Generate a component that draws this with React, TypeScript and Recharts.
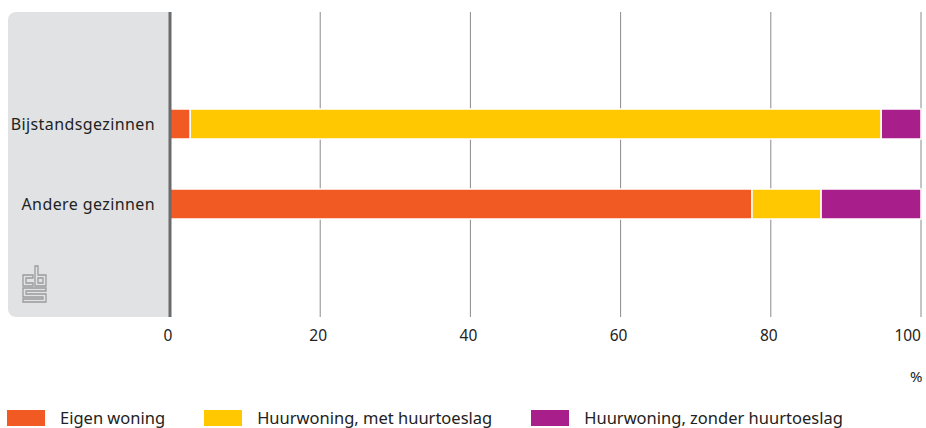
import { BarChart, Bar, XAxis, YAxis, CartesianGrid, ReferenceLine } from "recharts";

const categories = ["Bijstandsgezinnen", "Andere gezinnen"];
const eigenWoning = [2.7, 77.5];
const metToeslag = [92.0, 9.2];
const zonderToeslag = [5.3, 13.3];
const xTicks = [0, 20, 40, 60, 80, 100];

const seriesNames = ["Eigen woning", "Huurwoning, met huurtoeslag", "Huurwoning, zonder huurtoeslag"];
const seriesColors = ["#f15a22", "#ffc800", "#a81f8c"];
const seriesKeys = ["eigen", "met", "zonder"];

const data = categories.map((name, i) => ({
  name,
  eigen: eigenWoning[i],
  met: metToeslag[i],
  zonder: zonderToeslag[i],
}));

const FONT = "'Noto Sans', sans-serif";
const TEXT = "#222";

function XTick(props: any) {
  const { x, y, payload } = props;
  const last = payload.value === 100;
  return (
    <text x={last ? x : x - 2} y={y + 16} textAnchor={last ? "end" : "middle"} fontSize={15.5} fill={TEXT} fontFamily={FONT}>
      {payload.value}
    </text>
  );
}

function YTick(props: any) {
  const { y, payload } = props;
  return (
    <text x={155} y={y} dy={6} textAnchor="end" fontSize={16} letterSpacing={0.4} fill={TEXT} fontFamily={FONT}>
      {payload.value}
    </text>
  );
}

function CbsLogo() {
  return (
    <svg width={28} height={40} style={{ position: "absolute", left: 21, top: 264 }} viewBox="0 0 28 40">
      <g fill="none" stroke="#9a9b9d" strokeWidth={1.3}>
        <path d="M2 11 H12 V14 H5 V19 H12 V22 H2 Z" />
        <path d="M14 2 H17 V11 H25 V22 H14 Z M17 14 V19 H22 V14 Z" />
        <path d="M2 24 H25 V27 H5 V30 H25 V38 H2 V35 H22 V33 H2 Z" />
      </g>
    </svg>
  );
}

export default function App() {
  return (
    <div style={{ position: "absolute", left: 0, top: 0, width: 926, height: 428, background: "#fff", fontFamily: FONT }}>
      <div
        style={{
          position: "absolute",
          left: 8,
          top: 12,
          width: 162,
          height: 305,
          background: "#e1e2e4",
          borderRadius: "8px 0 0 8px",
        }}
      />
      <CbsLogo />
      <div style={{ position: "absolute", left: 0, top: 0 }}>
        <BarChart
          width={926}
          height={428}
          data={data}
          layout="vertical"
          margin={{ top: 12, right: 5, left: 0, bottom: 81 }}
        >
          <CartesianGrid horizontal={false} stroke="#8a8a8a" strokeWidth={1} />
          <XAxis
            type="number"
            domain={[0, 100]}
            ticks={xTicks}
            axisLine={false}
            tickLine={false}
            tick={<XTick />}
            height={30}
            interval={0}
          />
          <YAxis
            type="category"
            dataKey="name"
            width={170}
            axisLine={false}
            tickLine={false}
            tick={<YTick />}
            padding={{ top: 72, bottom: 73 }}
          />
          {seriesKeys.map((k, i) => (
            <Bar
              key={k}
              dataKey={k}
              name={seriesNames[i]}
              stackId="a"
              fill={seriesColors[i]}
              stroke="#fff"
              strokeWidth={1.5}
              barSize={30}
              isAnimationActive={false}
            />
          ))}
          <ReferenceLine x={0} stroke="#6b6b6b" strokeWidth={3} />
        </BarChart>
      </div>
      <div style={{ position: "absolute", left: 910, top: 366, fontSize: 15, color: TEXT }}>%</div>
      <div style={{ position: "absolute", left: 7, top: 408, display: "flex", alignItems: "center" }}>
        {seriesNames.map((n, i) => (
          <div key={n} style={{ display: "flex", alignItems: "center", marginRight: 39 }}>
            <div style={{ width: 38, height: 16, background: seriesColors[i], marginRight: 15 }} />
            <span style={{ fontSize: 16.5, color: TEXT, lineHeight: "20px" }}>{n}</span>
          </div>
        ))}
      </div>
    </div>
  );
}
